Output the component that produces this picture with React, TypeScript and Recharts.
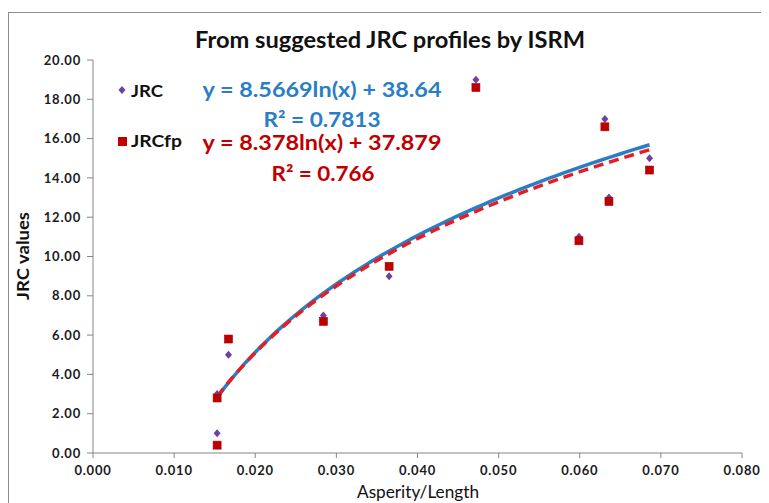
import React from "react";
import { ComposedChart, Line, Scatter, XAxis, YAxis } from "recharts";

// values
const asperityLength = [0.0153, 0.0153, 0.0167, 0.0284, 0.0365, 0.0472, 0.0599, 0.0631, 0.0636, 0.0686];
const jrcValues = [1.0, 3.0, 5.0, 7.0, 9.0, 19.0, 11.0, 17.0, 13.0, 15.0];
const jrcfpValues = [0.4, 2.8, 5.8, 6.7, 9.5, 18.6, 10.8, 16.6, 12.8, 14.4];

const xTicks = [0, 0.01, 0.02, 0.03, 0.04, 0.05, 0.06, 0.07, 0.08];
const yTicks = [0, 2, 4, 6, 8, 10, 12, 14, 16, 18, 20];

// logarithmic trendlines as printed on the chart
const jrcFit = { a: 8.5669, b: 38.64, eq: "y = 8.5669ln(x) + 38.64", r2: "R² = 0.7813" };
const jrcfpFit = { a: 8.378, b: 37.879, eq: "y = 8.378ln(x) + 37.879", r2: "R² = 0.766" };

const FONT = "Lato, 'Open Sans', sans-serif";
const BLUE = "#2A7EC4";
const RED_LINE = "#E41E26";
const DARK_RED = "#C00000";
const PURPLE = "#6E40A6";

const jrcPoints = asperityLength.map((x, i) => ({ x, y: jrcValues[i] }));
const jrcfpPoints = asperityLength.map((x, i) => ({ x, y: jrcfpValues[i] }));

function trend(fit: { a: number; b: number }) {
  const lo = Math.min(...asperityLength);
  const hi = Math.max(...asperityLength);
  const pts: { x: number; y: number }[] = [];
  for (let i = 0; i <= 60; i++) {
    const x = lo + ((hi - lo) * i) / 60;
    pts.push({ x, y: fit.a * Math.log(x) + fit.b });
  }
  return pts;
}

const Diamond = (props: any) => {
  const { cx, cy } = props;
  if (cx == null || cy == null) return null;
  return (
    <polygon
      points={`${cx},${cy - 4} ${cx + 3.5},${cy} ${cx},${cy + 4} ${cx - 3.5},${cy}`}
      fill={PURPLE}
    />
  );
};

const Square = (props: any) => {
  const { cx, cy } = props;
  if (cx == null || cy == null) return null;
  return <rect x={cx - 4} y={cy - 4} width={8} height={8} fill={DARK_RED} stroke="#A80000" strokeWidth={0.6} />;
};

const tickStyle = {
  fontFamily: FONT,
  fontWeight: 700,
  fontSize: 13,
  fill: "#1b1b1b",
  letterSpacing: 0.8,
};

export default function App() {
  return (
    <div style={{ position: "relative", width: 761, height: 495, background: "#fff" }}>
      <div
        style={{
          position: "absolute",
          left: 0,
          top: 4,
          width: 761,
          height: 491,
          boxSizing: "border-box",
          borderLeft: "1px solid #8c8c8c",
          borderTop: "1px solid #8c8c8c",
        }}
      />
      <ComposedChart
        width={761}
        height={495}
        margin={{ top: 52, right: 27, left: 25, bottom: 20 }}
        style={{ position: "absolute", left: 0, top: 0 }}
      >
        <XAxis
          type="number"
          dataKey="x"
          domain={[0, 0.08]}
          ticks={xTicks}
          tickFormatter={(v: number) => v.toFixed(3)}
          height={30}
          stroke="#868686"
          tickSize={5}
          tickMargin={8}
          tick={tickStyle}
          allowDataOverflow
        />
        <YAxis
          type="number"
          dataKey="y"
          domain={[0, 20]}
          ticks={yTicks}
          tickFormatter={(v: number) => v.toFixed(2)}
          width={60}
          stroke="#868686"
          tickSize={6}
          tickMargin={6}
          tick={tickStyle}
          allowDataOverflow
        />
        <Line
          data={trend(jrcFit)}
          dataKey="y"
          type="linear"
          stroke={BLUE}
          strokeWidth={3.5}
          dot={false}
          activeDot={false}
          isAnimationActive={false}
        />
        <Line
          data={trend(jrcfpFit)}
          dataKey="y"
          type="linear"
          stroke={RED_LINE}
          strokeWidth={3.5}
          strokeDasharray="10 6"
          dot={false}
          activeDot={false}
          isAnimationActive={false}
        />
        <Scatter data={jrcPoints} dataKey="y" shape={Diamond} isAnimationActive={false} />
        <Scatter data={jrcfpPoints} dataKey="y" shape={Square} isAnimationActive={false} />
      </ComposedChart>

      <svg
        width={761}
        height={495}
        style={{ position: "absolute", left: 0, top: 0, pointerEvents: "none" }}
      >
        <g transform="translate(-8,-8)" fontFamily={FONT} fontWeight={700}>
          <text x={390} y={48} fontSize={22} textAnchor="middle" fill="#111" textLength={390} lengthAdjust="spacingAndGlyphs">
            From suggested JRC profiles by ISRM
          </text>

          <polygon points="122,86 125.5,90 122,94 118.5,90" fill={PURPLE} />
          <text x={131} y={97} fontSize={17} fill="#111" textLength={32} lengthAdjust="spacingAndGlyphs">
            JRC
          </text>
          <rect x={118} y={137} width={9} height={9} fill={DARK_RED} />
          <text x={131} y={147} fontSize={17} fill="#111" textLength={51} lengthAdjust="spacingAndGlyphs">
            JRCfp
          </text>

          <text x={322} y={97} fontSize={20} textAnchor="middle" fill={BLUE} textLength={239} lengthAdjust="spacingAndGlyphs">
            {jrcFit.eq}
          </text>
          <text x={322} y={127} fontSize={20} textAnchor="middle" fill={BLUE} textLength={117} lengthAdjust="spacingAndGlyphs">
            {jrcFit.r2}
          </text>
          <text x={322} y={150} fontSize={20} textAnchor="middle" fill={DARK_RED} textLength={239} lengthAdjust="spacingAndGlyphs">
            {jrcfpFit.eq}
          </text>
          <text x={323} y={181} fontSize={20} textAnchor="middle" fill={DARK_RED} textLength={103} lengthAdjust="spacingAndGlyphs">
            {jrcfpFit.r2}
          </text>

          <text x={418} y={498} fontSize={18} fontWeight={400} textAnchor="middle" fill="#111" textLength={122} lengthAdjust="spacingAndGlyphs">
            Asperity/Length
          </text>
          <text
            x={29}
            y={256}
            fontSize={17}
            textAnchor="middle"
            fill="#111"
            transform="rotate(-90, 29, 256)"
            textLength={88}
            lengthAdjust="spacingAndGlyphs"
          >
            JRC values
          </text>
        </g>
      </svg>
    </div>
  );
}
